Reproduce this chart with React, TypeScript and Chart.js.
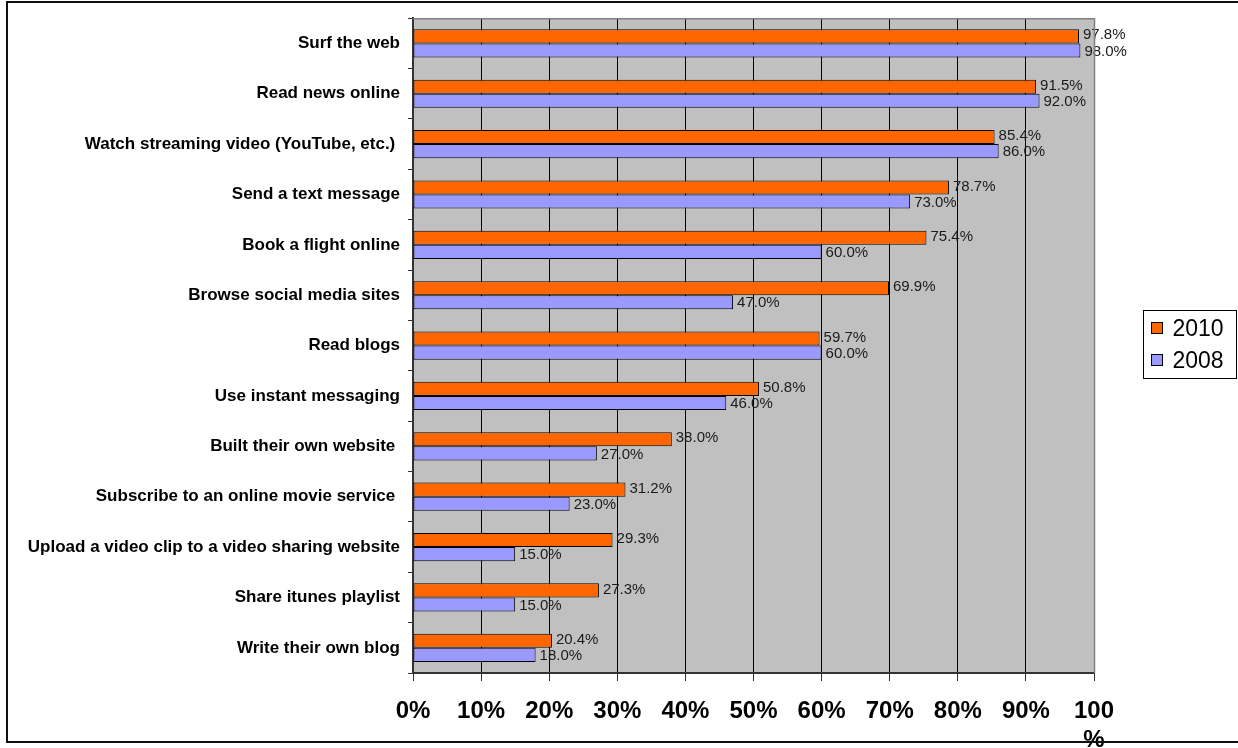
import React, { useEffect, useRef } from "react";
import { Chart, registerables } from "chart.js";

Chart.register(...registerables);

const categories = [
  "Surf the web",
  "Read news online",
  "Watch streaming video (YouTube, etc.) ",
  "Send a text message",
  "Book a flight online",
  "Browse social media sites",
  "Read blogs",
  "Use instant messaging",
  "Built their own website ",
  "Subscribe to an online movie service ",
  "Upload a video clip to a video sharing website",
  "Share itunes playlist",
  "Write their own blog",
];

const values2010 = [97.8, 91.5, 85.4, 78.7, 75.4, 69.9, 59.7, 50.8, 38.0, 31.2, 29.3, 27.3, 20.4];
const values2008 = [98.0, 92.0, 86.0, 73.0, 60.0, 47.0, 60.0, 46.0, 27.0, 23.0, 15.0, 15.0, 18.0];

const seriesNames = ["2010", "2008"];
const seriesColors = ["#FF6600", "#9999FF"];

const xTickLabels: (string | string[])[] = [
  "0%", "10%", "20%", "30%", "40%", "50%", "60%", "70%", "80%", "90%", ["100", "%"],
];

const FONT = "'Liberation Sans', Arial, sans-serif";

const bgPlugin = {
  id: "plotBg",
  beforeDraw(chart: any) {
    const { ctx, chartArea } = chart;
    ctx.save();
    ctx.fillStyle = "#C0C0C0";
    ctx.fillRect(chartArea.left, chartArea.top, chartArea.right - chartArea.left, chartArea.bottom - chartArea.top);
    ctx.restore();
  },
  afterDraw(chart: any) {
    const { ctx, chartArea } = chart;
    ctx.save();
    ctx.strokeStyle = "#808080";
    ctx.lineWidth = 1.5;
    ctx.beginPath();
    ctx.moveTo(chartArea.left, chartArea.top + 0.5);
    ctx.lineTo(chartArea.right + 0.5, chartArea.top + 0.5);
    ctx.lineTo(chartArea.right + 0.5, chartArea.bottom);
    ctx.stroke();
    ctx.restore();
  },
};

const labelPlugin = {
  id: "valueLabels",
  afterDatasetsDraw(chart: any) {
    const { ctx } = chart;
    ctx.save();
    ctx.font = `15px ${FONT}`;
    ctx.fillStyle = "#1a1a1a";
    ctx.textAlign = "left";
    ctx.textBaseline = "middle";
    chart.data.datasets.forEach((ds: any, di: number) => {
      const meta = chart.getDatasetMeta(di);
      meta.data.forEach((bar: any, i: number) => {
        const v = ds.data[i];
        ctx.fillText(v.toFixed(1) + "%", bar.x + 4, bar.y + (di === 0 ? -1 : 1));
      });
    });
    ctx.restore();
  },
};

const legendPlugin = {
  id: "boxLegend",
  afterDraw(chart: any) {
    const { ctx } = chart;
    const x = 1143.5, y = 310.5, w = 93, h = 68;
    ctx.save();
    ctx.fillStyle = "#fff";
    ctx.fillRect(x, y, w, h);
    ctx.strokeStyle = "#000";
    ctx.lineWidth = 1;
    ctx.strokeRect(x, y, w, h);
    ctx.font = `23px ${FONT}`;
    ctx.textBaseline = "middle";
    ctx.textAlign = "left";
    chart.data.datasets.forEach((ds: any, i: number) => {
      const cy = y + 18 + i * 32;
      ctx.fillStyle = ds.backgroundColor;
      ctx.fillRect(x + 8, cy - 6, 11, 11);
      ctx.strokeStyle = "#000";
      ctx.strokeRect(x + 8, cy - 6, 11, 11);
      ctx.fillStyle = "#000";
      ctx.fillText(ds.label, x + 29, cy + 1);
    });
    ctx.restore();
  },
};

export default function App() {
  const ref = useRef<HTMLCanvasElement>(null);
  useEffect(() => {
    if (!ref.current) return;
    const chart = new Chart(ref.current, {
      type: "bar",
      data: {
        labels: categories,
        datasets: [
          { label: seriesNames[0], data: values2010, backgroundColor: seriesColors[0], borderColor: "#000", borderWidth: 1, borderSkipped: false },
          { label: seriesNames[1], data: values2008, backgroundColor: seriesColors[1], borderColor: "#000", borderWidth: 1, borderSkipped: false },
        ],
      },
      options: {
        indexAxis: "y",
        animation: false,
        responsive: false,
        maintainAspectRatio: false,
        layout: { padding: { top: 15, right: 144, left: 0, bottom: 0 } },
        datasets: { bar: { categoryPercentage: 0.56, barPercentage: 1 } },
        plugins: { legend: { display: false }, tooltip: { enabled: false } },
        scales: {
          x: {
            min: 0,
            max: 100,
            afterFit(scale: any) { scale.height = 75; },
            afterBuildTicks(scale: any) {
              scale.ticks = xTickLabels.map((_, i) => ({ value: i * 10 }));
            },
            ticks: {
              autoSkip: false,
              maxRotation: 0,
              padding: 16,
              color: "#000",
              font: { family: FONT, size: 24, weight: "bold" },
              callback: (_v: any, i: number) => xTickLabels[i],
            },
            grid: { color: "#000", lineWidth: 1, tickLength: 8, tickColor: "#333" },
            border: { color: "#333", width: 2 },
          },
          y: {
            afterFit(scale: any) { scale.width = 413; },
            ticks: {
              autoSkip: false,
              padding: 8,
              color: "#000",
              font: { family: FONT, size: 17, weight: "bold" },
            },
            grid: { drawOnChartArea: false, tickLength: 5, tickColor: "#333", offset: true },
            border: { color: "#333", width: 2 },
          },
        },
      },
      plugins: [bgPlugin, labelPlugin, legendPlugin],
    });
    return () => chart.destroy();
  }, []);
  return (
    <div style={{ position: "fixed", left: 0, top: 0, width: 1238, height: 748, background: "#fff", overflow: "hidden" }}>
      <canvas ref={ref} width={1238} height={748} style={{ position: "absolute", left: 0, top: 0 }} />
      <div style={{ position: "absolute", left: 6, top: 1, width: 1300, height: 742, boxSizing: "border-box", border: "2px solid #111", pointerEvents: "none" }} />
    </div>
  );
}
